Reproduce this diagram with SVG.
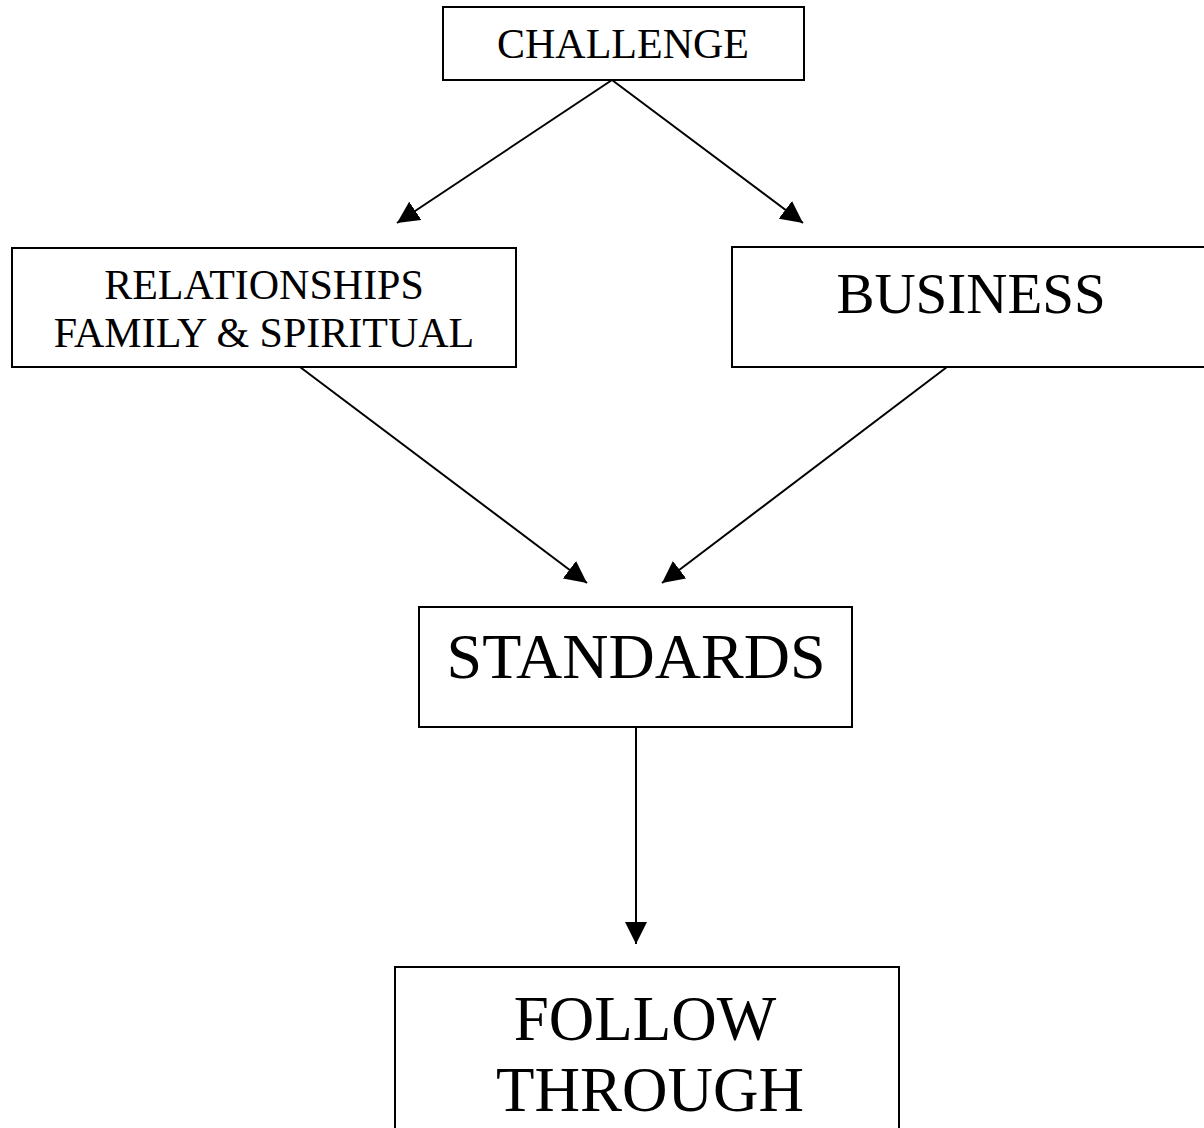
<svg xmlns="http://www.w3.org/2000/svg" width="1204" height="1128" viewBox="0 0 1204 1128">
<style>
.box{fill:#fff;stroke:#000;stroke-width:2}
.lbl{font-family:"Liberation Serif","Times New Roman",serif;fill:#000;text-anchor:middle}
.con{stroke:#000;stroke-width:2;fill:none;marker-end:url(#arr)}
</style>
<defs>
<marker id="arr" markerUnits="userSpaceOnUse" viewBox="0 0 22 22" refX="22" refY="11" markerWidth="22" markerHeight="22" orient="auto">
<path d="M0,0 L22,11 L0,22 Z" fill="#000"/>
</marker>
</defs>
<rect width="1204" height="1128" fill="#fff"/>
<g id="connectors">
<line class="con" x1="612" y1="80" x2="397" y2="223"/>
<line class="con" x1="612" y1="80" x2="803" y2="223"/>
<line class="con" x1="300" y1="367" x2="587" y2="583"/>
<line class="con" x1="947" y1="367" x2="662" y2="583"/>
<line class="con" x1="636" y1="727" x2="636" y2="944"/>
</g>
<g id="challenge">
<rect class="box" x="443" y="7" width="361" height="73"/>
<text class="lbl" x="623" y="58" font-size="42">CHALLENGE</text>
</g>
<g id="relationships">
<rect class="box" x="12" y="248" width="504" height="119"/>
<text class="lbl" x="264" y="299" font-size="42">RELATIONSHIPS</text>
<text class="lbl" x="264" y="347" font-size="42">FAMILY &amp; SPIRITUAL</text>
</g>
<g id="business">
<rect class="box" x="732" y="247" width="480" height="120"/>
<text class="lbl" x="971" y="313" font-size="57">BUSINESS</text>
</g>
<g id="standards">
<rect class="box" x="419" y="607" width="433" height="120"/>
<text class="lbl" x="636" y="678" font-size="64">STANDARDS</text>
</g>
<g id="follow-through">
<rect class="box" x="395" y="967" width="504" height="180"/>
<text class="lbl" x="645" y="1040" font-size="63">FOLLOW</text>
<text class="lbl" x="650" y="1111" font-size="63">THROUGH</text>
</g>
</svg>
